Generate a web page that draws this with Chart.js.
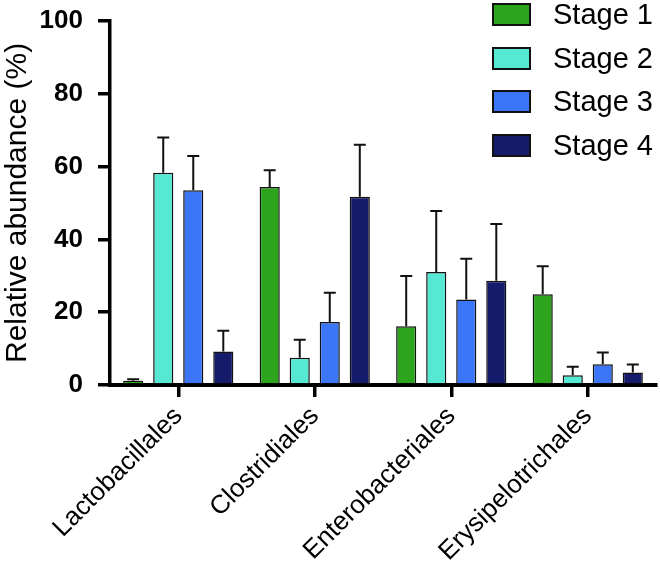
<!DOCTYPE html>
<html>
<head>
<meta charset="utf-8">
<script src="https://cdn.jsdelivr.net/npm/chart.js@4"></script>
<style>
  body { margin: 0; background: #fff; }
  #wrap { position: relative; width: 660px; height: 572px; }
  #leyenda { position: absolute; left: 492px; top: 3px; font-family: Arial, "Liberation Sans", Helvetica, sans-serif; }
  .fila { position: absolute; left: 0; height: 23px; white-space: nowrap; }
  .caja { position: absolute; left: 0; top: 0; width: 39px; height: 23px; box-sizing: border-box; border: 2px solid #111; }
  .texto { position: absolute; left: 61px; top: -5px; font-size: 29px; line-height: 32px; color: #000; }
</style>
</head>
<body>
<div id="wrap">
  <canvas id="grafico" width="660" height="572"></canvas>
  <div id="leyenda"></div>
</div>
<script>
// Datos
const categorias = ['Lactobacillales', 'Clostridiales', 'Enterobacteriales', 'Erysipelotrichales'];
const series = ['Stage 1', 'Stage 2', 'Stage 3', 'Stage 4'];
const colores = ['#2ca51c', '#55e8d3', '#3a76f7', '#151a6a'];

const stage1 = [1.2, 54.4, 16.1, 24.9];
const stage2 = [58.3, 7.5, 31.0, 2.7];
const stage3 = [53.5, 17.3, 23.5, 5.7];
const stage4 = [9.2, 51.7, 28.6, 3.4];

// barras de error (solo hacia arriba)
const err1 = [0.4, 4.6, 13.8, 7.7];
const err2 = [9.7, 4.9, 16.8, 2.3];
const err3 = [9.4, 8.0, 11.2, 3.2];
const err4 = [5.7, 14.3, 15.6, 2.2];

const ticksY = [0, 20, 40, 60, 80, 100];

const valores = [stage1, stage2, stage3, stage4];
const errores = [err1, err2, err3, err4];

const fuente = 'Arial, "Liberation Sans", Helvetica, sans-serif';

// Plugin para dibujar las barras de error
const barrasError = {
    id: 'barrasError',
    afterDatasetsDraw(chart) {
        const ctx = chart.ctx;
        const y = chart.scales.y;
        ctx.save();
        ctx.strokeStyle = '#111';
        ctx.lineWidth = 2;
        chart.data.datasets.forEach((ds, i) => {
            const meta = chart.getDatasetMeta(i);
            meta.data.forEach((barra, j) => {
                const arriba = y.getPixelForValue(ds.data[j] + errores[i][j]);
                ctx.beginPath();
                ctx.moveTo(barra.x, barra.y);
                ctx.lineTo(barra.x, arriba);
                ctx.moveTo(barra.x - 6, arriba);
                ctx.lineTo(barra.x + 6, arriba);
                ctx.stroke();
            });
        });
        ctx.restore();
    }
};

const ctx = document.getElementById('grafico').getContext('2d');
new Chart(ctx, {
    type: 'bar',
    data: {
        labels: categorias,
        datasets: series.map((nombre, i) => ({
            label: nombre,
            data: valores[i],
            backgroundColor: colores[i],
            borderColor: '#111',
            borderWidth: 1.5,
            borderSkipped: 'bottom',
            categoryPercentage: 0.88,
            barPercentage: 0.67
        }))
    },
    options: {
        responsive: false,
        animation: false,
        layout: { padding: { top: 20, right: 4, left: 0, bottom: 0 } },
        plugins: {
            legend: { display: false },
            tooltip: { enabled: false }
        },
        scales: {
            x: {
                grid: { display: true, offset: false, drawOnChartArea: false, drawTicks: true, tickLength: 12, lineWidth: 3.5, color: '#000' },
                border: { display: true, width: 4, color: '#000' },
                ticks: {
                    color: '#000',
                    font: { family: fuente, size: 26 },
                    minRotation: 45,
                    maxRotation: 45,
                    padding: 4
                },
                afterFit(scale) { scale.height = 187; }
            },
            y: {
                min: 0,
                max: 100,
                afterBuildTicks(scale) { scale.ticks = ticksY.map(v => ({ value: v })); },
                grid: { display: true, drawOnChartArea: false, drawTicks: true, tickLength: 12, lineWidth: 3.5, color: '#000' },
                border: { display: true, width: 3.5, color: '#000' },
                ticks: {
                    color: '#000',
                    font: { family: fuente, size: 26, weight: 'bold', lineHeight: 0.45 },
                    padding: 15
                },
                title: {
                    display: true,
                    text: 'Relative abundance (%)',
                    color: '#000',
                    font: { family: fuente, size: 30, lineHeight: 1.2 },
                    padding: 0
                },
                afterFit(scale) { scale.width = 110; }
            }
        }
    },
    plugins: [barrasError]
});

// Leyenda en HTML, arriba a la derecha
const leyenda = document.getElementById('leyenda');
series.forEach((nombre, i) => {
    const fila = document.createElement('div');
    fila.className = 'fila';
    fila.style.top = (i * 43.7) + 'px';
    fila.innerHTML = '<div class="caja" style="background:' + colores[i] + '"></div><div class="texto">' + nombre + '</div>';
    leyenda.appendChild(fila);
});
</script>
</body>
</html>
